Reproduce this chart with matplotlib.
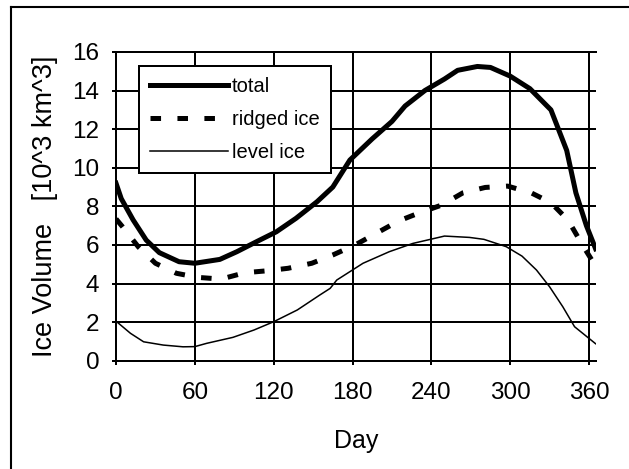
import matplotlib
matplotlib.use("Agg")
import matplotlib.pyplot as plt
from matplotlib.lines import Line2D

plt.rcParams["font.family"] = ["Liberation Sans", "DejaVu Sans"]
plt.rcParams["lines.scale_dashes"] = False

# Seasonal ice volume (10^3 km^3) against day of year
total_days = [0, 4, 13, 23, 33, 48, 60, 79, 92, 107, 122, 137, 153, 165, 178,
              195, 210, 220, 235, 250, 260, 275, 285, 300, 315, 331, 343, 350,
              358, 365]
total_vol = [9.2, 8.4, 7.3, 6.25, 5.6, 5.13, 5.05, 5.25, 5.65, 6.17, 6.68, 7.38,
             8.24, 9.0, 10.4, 11.5, 12.4, 13.2, 14.0, 14.6, 15.05, 15.25, 15.2,
             14.75, 14.1, 13.0, 10.9, 8.7, 7.0, 5.8]

ridged_days = [0, 5, 17, 30, 46, 62, 80, 98, 115, 131, 149, 165, 182, 198, 215,
               230, 248, 264, 281, 298, 316, 331, 344, 355, 365]
ridged_vol = [7.35, 6.94, 5.9, 5.05, 4.53, 4.32, 4.23, 4.56, 4.66, 4.79, 5.05,
              5.48, 6.0, 6.6, 7.24, 7.64, 8.07, 8.7, 8.98, 9.05, 8.7, 8.19, 7.29,
              6.0, 4.9]

level_days = [0, 11, 21, 36, 51, 60, 69, 89, 105, 120, 138, 155, 163, 168, 188,
              208, 226, 250, 269, 280, 297, 309, 320, 330, 340, 349, 365]
level_vol = [2.05, 1.42, 0.98, 0.81, 0.72, 0.73, 0.9, 1.21, 1.59, 2.02, 2.63,
             3.4, 3.75, 4.18, 5.05, 5.65, 6.08, 6.46, 6.39, 6.29, 5.91, 5.42,
             4.7, 3.83, 2.8, 1.76, 0.88]

x_ticks = [0, 60, 120, 180, 240, 300, 360]
y_ticks = [0, 2, 4, 6, 8, 10, 12, 14, 16]

W, H = 629, 469
fig = plt.figure(figsize=(W / 100, H / 100), dpi=100)

# outer chart-area frame (top and left edges fall inside the canvas)
fig.add_artist(Line2D([11 / W, 1.0], [1 - 6.7 / H, 1 - 6.7 / H],
                      transform=fig.transFigure, color="black", lw=1.5))
fig.add_artist(Line2D([11 / W, 11 / W], [0.0, 1 - 6.7 / H],
                      transform=fig.transFigure, color="black", lw=1.5))

x0, x1 = 116, 595.6
y0, y1 = 360.7, 52
ax = fig.add_axes([x0 / W, 1 - y0 / H, (x1 - x0) / W, (y0 - y1) / H])

gw = 1.44
ax.plot(total_days, total_vol, color="black", lw=3.6, solid_joinstyle="round",
        label="total", zorder=3)
ax.plot(ridged_days, ridged_vol, color="black", lw=3.6,
        linestyle=(0, (7.6, 11.8)), dash_capstyle="butt", label="ridged ice",
        zorder=3)
ax.plot(level_days, level_vol, color="black", lw=1.1, label="level ice", zorder=3)

ax.set_xlim(0, 365)
ax.set_ylim(0, 16)
ax.set_xticks(x_ticks)
ax.set_yticks(y_ticks)
ax.grid(True, color="black", lw=gw)
ax.set_axisbelow(True)
for side in ("left", "bottom", "top"):
    ax.spines[side].set_linewidth(gw)
ax.spines["right"].set_visible(False)
ax.tick_params(axis="both", direction="out", length=3, width=gw,
               labelsize=17.5, color="black")
ax.tick_params(axis="x", pad=12)
ax.tick_params(axis="y", pad=9)

ax.set_xlabel("Day", fontsize=18)
ax.set_ylabel("Ice Volume   [10^3 km^3]", fontsize=19.5)
ax.xaxis.set_label_coords(0.5, -0.222)
ax.yaxis.set_label_coords(-0.12, 0.5)

leg = ax.legend(loc="upper left", bbox_to_anchor=(139 / W, 1 - 66 / H),
                bbox_transform=fig.transFigure, borderaxespad=0,
                fontsize=14.5, handlelength=3.85, handletextpad=0.22,
                labelspacing=0.7, borderpad=0.55, fancybox=False,
                framealpha=1, edgecolor="black")
leg.get_frame().set_linewidth(gw)

fig.savefig("out.png", dpi=100)
